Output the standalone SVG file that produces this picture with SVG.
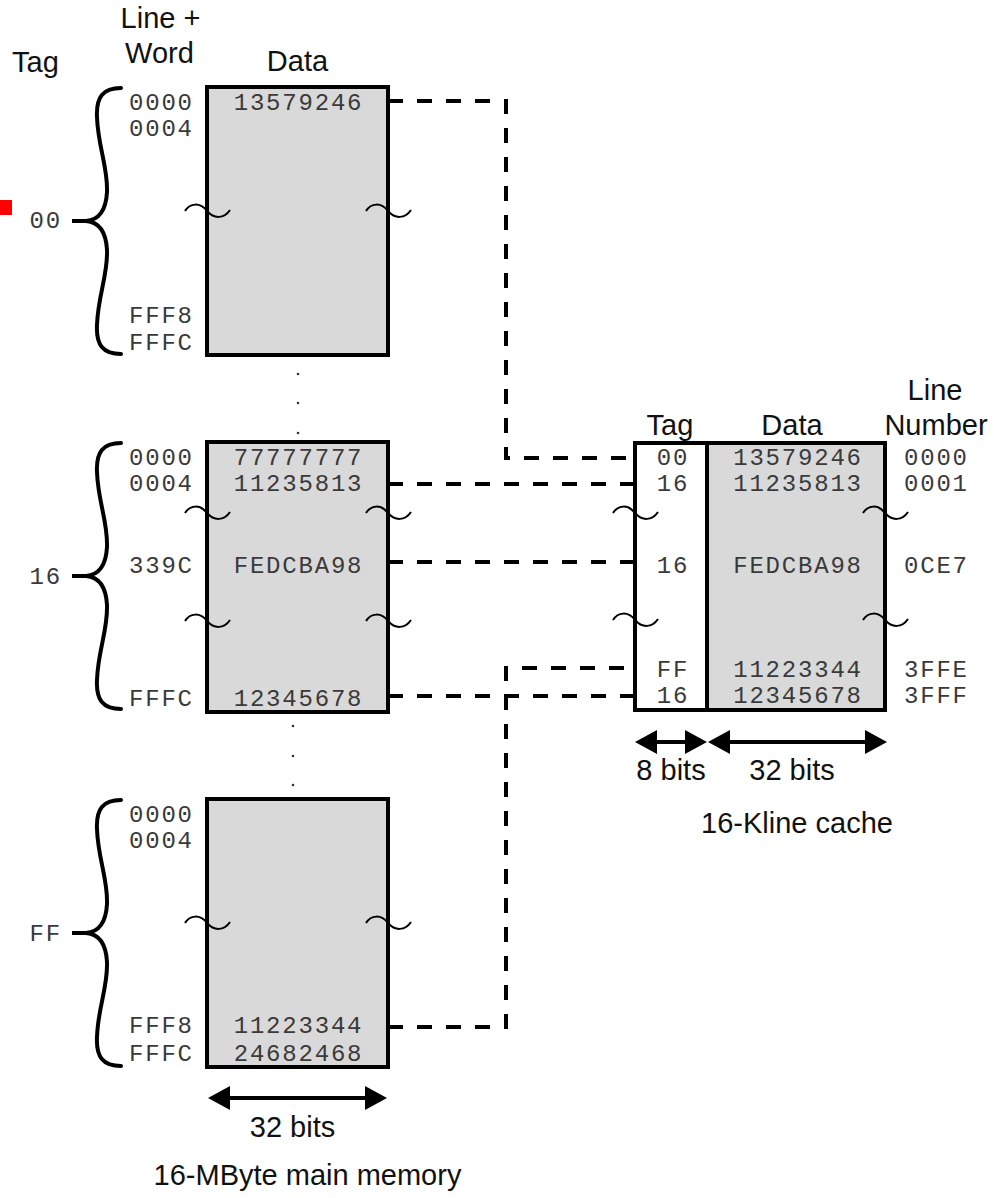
<svg xmlns="http://www.w3.org/2000/svg" xmlns:xlink="http://www.w3.org/1999/xlink" width="994" height="1198" viewBox="0 0 994 1198">
<style>
.sans{font-family:"Liberation Sans",Arial,sans-serif;font-size:29px;fill:#111}
.mono{font-family:"Liberation Mono","Courier New",monospace;font-size:24px;letter-spacing:1.8px;fill:#3a3a3a}
.mid{text-anchor:middle}
.end{text-anchor:end}
.box{fill:#d9d9d9;stroke:#000;stroke-width:4}
.tagbox{fill:#fff;stroke:#000;stroke-width:4}
.brace{fill:none;stroke:#000;stroke-width:4;stroke-linecap:round}
.tilde{fill:none;stroke:#000;stroke-width:2}
.dash{fill:none;stroke:#000;stroke-width:4;stroke-dasharray:15 14}
.dim{stroke:#000;stroke-width:4;marker-start:url(#ah);marker-end:url(#ah)}
.dot{fill:#333}
</style>
<defs>
<marker id="ah" viewBox="0 0 22 24" refX="18" refY="12" markerWidth="22" markerHeight="24" markerUnits="userSpaceOnUse" orient="auto-start-reverse">
<path d="M0,0 L22,12 L0,24 z" fill="#000"/>
</marker>
<path id="brace" class="brace" d="M121,1 C103,1 96,10 97,30 C98,60 108,80 107,105 C106,124 98,133 86,134 L72,134 L86,134 C98,135 106,144 107,163 C108,188 98,208 97,238 C96,258 103,267 121,267"/>
<path id="tilde" class="tilde" d="M-22,0 C-17,-8 -7,-9 0,0 C7,8 17,8 23,-1"/>
</defs>

<rect x="0" y="200" width="12" height="15" fill="#ff0000"/>

<g id="headers">
<text class="sans mid" x="35.5" y="72">Tag</text>
<text class="sans mid" x="160.5" y="28">Line +</text>
<text class="sans mid" x="159.5" y="63">Word</text>
<text class="sans mid" x="297.5" y="71">Data</text>
</g>

<g id="connectors">
<path class="dash" d="M388,101 H506 V458 H635"/>
<path class="dash" d="M388,484 H635"/>
<path class="dash" d="M388,562 H635"/>
<path class="dash" d="M388,696 H635"/>
<path class="dash" d="M388,1027 H506 V668 H635"/>
</g>

<g id="mem-block-00">
<rect class="box" x="207" y="87" width="181" height="268"/>
<use xlink:href="#brace" href="#brace" x="0" y="87"/>
<text class="mono end" x="62" y="228">00</text>
<text class="mono" x="129" y="110">0000</text>
<text class="mono" x="129" y="136">0004</text>
<text class="mono" x="129" y="323">FFF8</text>
<text class="mono" x="129" y="350">FFFC</text>
<text class="mono mid" x="298.5" y="110">13579246</text>
<use xlink:href="#tilde" href="#tilde" x="207" y="211"/>
<use xlink:href="#tilde" href="#tilde" x="388" y="211"/>
</g>

<g id="dots">
<circle class="dot" cx="298" cy="374" r="1.3"/>
<circle class="dot" cx="298" cy="403" r="1.3"/>
<circle class="dot" cx="298" cy="433" r="1.3"/>
<circle class="dot" cx="293" cy="726" r="1.3"/>
<circle class="dot" cx="293" cy="756" r="1.3"/>
<circle class="dot" cx="293" cy="785" r="1.3"/>
</g>

<g id="mem-block-16">
<rect class="box" x="207" y="442" width="181" height="270"/>
<use xlink:href="#brace" href="#brace" x="0" y="442"/>
<text class="mono end" x="62" y="584">16</text>
<text class="mono" x="129" y="465">0000</text>
<text class="mono" x="129" y="491">0004</text>
<text class="mono" x="129" y="573">339C</text>
<text class="mono" x="129" y="706">FFFC</text>
<text class="mono mid" x="298.5" y="465">77777777</text>
<text class="mono mid" x="298.5" y="491">11235813</text>
<text class="mono mid" x="298.5" y="573">FEDCBA98</text>
<text class="mono mid" x="298.5" y="706">12345678</text>
<use xlink:href="#tilde" href="#tilde" x="207" y="513"/>
<use xlink:href="#tilde" href="#tilde" x="388" y="513"/>
<use xlink:href="#tilde" href="#tilde" x="207" y="621"/>
<use xlink:href="#tilde" href="#tilde" x="388" y="621"/>
</g>

<g id="mem-block-FF">
<rect class="box" x="207" y="799" width="181" height="268"/>
<use xlink:href="#brace" href="#brace" x="0" y="799"/>
<text class="mono end" x="62" y="941">FF</text>
<text class="mono" x="129" y="822">0000</text>
<text class="mono" x="129" y="848">0004</text>
<text class="mono" x="129" y="1033">FFF8</text>
<text class="mono" x="129" y="1061">FFFC</text>
<text class="mono mid" x="298.5" y="1033">11223344</text>
<text class="mono mid" x="298.5" y="1061">24682468</text>
<use xlink:href="#tilde" href="#tilde" x="207" y="923"/>
<use xlink:href="#tilde" href="#tilde" x="388" y="923"/>
</g>

<g id="main-memory-label">
<line class="dim" x1="212" y1="1098" x2="383" y2="1098"/>
<text class="sans mid" x="292.5" y="1137">32 bits</text>
<text class="sans mid" x="307.5" y="1185">16-MByte main memory</text>
</g>

<g id="cache">
<text class="sans mid" x="670" y="435">Tag</text>
<text class="sans mid" x="792" y="435">Data</text>
<text class="sans mid" x="935" y="400">Line</text>
<text class="sans mid" x="936" y="435">Number</text>
<rect class="tagbox" x="635" y="443" width="72" height="267"/>
<rect class="box" x="707" y="443" width="178" height="267"/>
<text class="mono mid" x="673" y="465">00</text>
<text class="mono mid" x="673" y="491">16</text>
<text class="mono mid" x="673" y="573">16</text>
<text class="mono mid" x="673" y="677">FF</text>
<text class="mono mid" x="673" y="703">16</text>
<text class="mono mid" x="798" y="465">13579246</text>
<text class="mono mid" x="798" y="491">11235813</text>
<text class="mono mid" x="798" y="573">FEDCBA98</text>
<text class="mono mid" x="798" y="677">11223344</text>
<text class="mono mid" x="798" y="703">12345678</text>
<text class="mono" x="904" y="465">0000</text>
<text class="mono" x="904" y="491">0001</text>
<text class="mono" x="904" y="573">0CE7</text>
<text class="mono" x="904" y="677">3FFE</text>
<text class="mono" x="904" y="703">3FFF</text>
<use xlink:href="#tilde" href="#tilde" x="635" y="513"/>
<use xlink:href="#tilde" href="#tilde" x="885" y="513"/>
<use xlink:href="#tilde" href="#tilde" x="635" y="620"/>
<use xlink:href="#tilde" href="#tilde" x="885" y="620"/>
<line class="dim" x1="639" y1="742" x2="703" y2="742"/>
<line class="dim" x1="712" y1="742" x2="883" y2="742"/>
<text class="sans mid" x="671" y="780">8 bits</text>
<text class="sans mid" x="792" y="780">32 bits</text>
<text class="sans mid" x="797" y="833">16-Kline cache</text>
</g>
</svg>
